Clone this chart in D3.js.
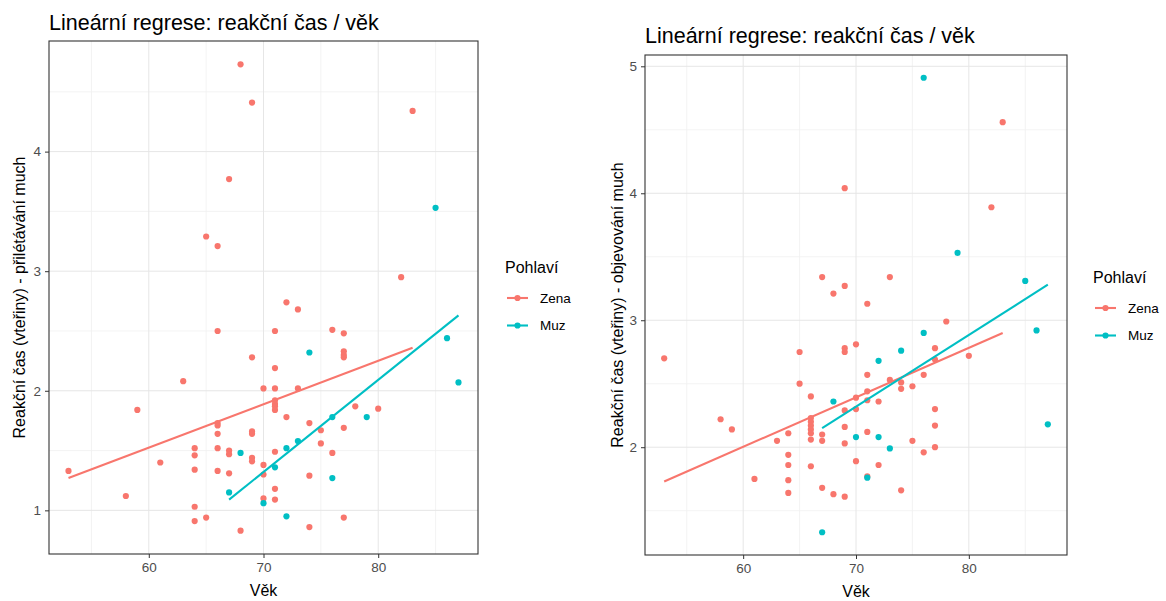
<!DOCTYPE html>
<html>
<head>
<meta charset="utf-8">
<script src="https://cdn.jsdelivr.net/npm/d3@7"></script>
<style>
  html, body { margin: 0; padding: 0; background: #ffffff; }
  svg { display: block; font-family: "Liberation Sans", Arial, sans-serif; }
</style>
</head>
<body>
<svg id="chart" width="1166" height="601"></svg>
<script>
// ---------------- DATA ----------------
const titleText = "Lineární regrese: reakční čas / věk";
const xAxisTitle = "Věk";
const yTitleLeft = "Reakční čas (vteřiny) - přilétávání much";
const yTitleRight = "Reakční čas (vteřiny) - objevování much";
const legendTitle = "Pohlaví";
const groupNames = ["Zena", "Muz"];
const groupColors = ["#F8766D", "#00BFC4"];

const xTicks = [60, 70, 80];
const yTicksLeft = [1, 2, 3, 4];
const yTicksRight = [2, 3, 4, 5];

// [age, reaction time] — left chart (přilétávání)
const leftZena = [
  [53,1.33],[58,1.12],[59,1.84],[61,1.40],[63,2.08],
  [64,1.52],[64,1.46],[64,1.34],[64,1.03],[64,0.91],
  [65,3.29],[65,0.94],
  [66,3.21],[66,2.50],[66,1.73],[66,1.71],[66,1.64],[66,1.52],[66,1.33],
  [67,3.77],[67,1.50],[67,1.47],[67,1.31],
  [68,4.73],[68,0.83],
  [69,4.41],[69,2.28],[69,1.66],[69,1.64],[69,1.44],[69,1.41],
  [70,2.02],[70,1.38],[70,1.30],[70,1.10],
  [71,2.50],[71,2.19],[71,2.02],[71,1.92],[71,1.89],[71,1.87],[71,1.84],[71,1.49],[71,1.18],[71,1.09],
  [72,2.74],[72,1.78],
  [73,2.68],[73,2.02],
  [74,1.73],[74,1.29],[74,0.86],
  [75,1.67],[75,1.56],
  [76,2.51],[76,1.48],
  [77,2.48],[77,2.33],[77,2.30],[77,2.28],[77,1.69],[77,0.94],
  [78,1.87],[80,1.85],[82,2.95],[83,4.34]
];
const leftMuz = [
  [67,1.15],[68,1.48],[70,1.06],[71,1.36],[72,1.52],[72,0.95],[73,1.58],
  [74,2.32],[76,1.78],[76,1.27],[79,1.78],[85,3.53],[86,2.44],[87,2.07]
];
// fitted regression lines (start/end)
const leftFitZena = [[53,1.27],[83,2.36]];
const leftFitMuz = [[67,1.09],[87,2.63]];

// right chart (objevování)
const rightZena = [
  [53,2.70],[58,2.22],[59,2.14],[61,1.75],[63,2.05],
  [64,2.11],[64,1.94],[64,1.86],[64,1.74],[64,1.64],
  [65,2.75],[65,2.50],
  [66,2.40],[66,2.23],[66,2.20],[66,2.17],[66,2.14],[66,2.11],[66,2.06],[66,1.85],
  [67,3.34],[67,2.10],[67,2.05],[67,1.68],
  [68,3.21],[68,1.63],
  [69,4.04],[69,3.27],[69,2.78],[69,2.75],[69,2.29],[69,2.16],[69,2.03],[69,1.61],
  [70,2.81],[70,2.39],[70,2.30],[70,1.89],
  [71,3.13],[71,2.57],[71,2.44],[71,2.37],[71,2.12],[71,1.77],
  [72,2.36],[72,1.86],
  [73,3.34],[73,2.53],
  [74,2.51],[74,2.46],[74,1.66],
  [75,2.48],[75,2.05],
  [76,2.57],[76,1.96],
  [77,2.78],[77,2.69],[77,2.30],[77,2.17],[77,2.00],
  [78,2.99],[80,2.72],[82,3.89],[83,4.56]
];
const rightMuz = [
  [67,1.33],[68,2.36],[70,2.08],[71,1.76],[72,2.68],[72,2.08],[73,1.99],
  [74,2.76],[76,2.90],[76,4.91],[79,3.53],[85,3.31],[86,2.92],[87,2.18]
];
const rightFitZena = [[53,1.73],[83,2.90]];
const rightFitMuz = [[67,2.15],[87,3.28]];

// ---------------- DRAW ----------------
const svg = d3.select("#chart");
svg.append("rect").attr("width", 1166).attr("height", 601).attr("fill", "#fff");

function expand(ext) {
  const r = ext[1] - ext[0];
  return [ext[0] - 0.05 * r, ext[1] + 0.05 * r];
}

function panel(cfg) {
  const {left, top, right, bottom, zena, muz, fitZena, fitMuz, yTicks, yTitle,
         titleY, yTitleX, legendX, legendY} = cfg;
  const all = zena.concat(muz);
  const x = d3.scaleLinear().domain(expand(d3.extent(all, d => d[0]))).range([left, right]);
  const y = d3.scaleLinear().domain(expand(d3.extent(all, d => d[1]))).range([bottom, top]);
  const g = svg.append("g");

  // grid: minor
  const xMinor = [];
  for (let v = Math.ceil(x.domain()[0] / 5) * 5; v <= x.domain()[1]; v += 5) if (v % 10 !== 0) xMinor.push(v);
  const yMinor = [];
  for (let v = Math.ceil(y.domain()[0] * 2) / 2; v <= y.domain()[1]; v += 0.5) if (v % 1 !== 0) yMinor.push(v);
  g.selectAll(".xm").data(xMinor).join("line")
    .attr("x1", d => x(d)).attr("x2", d => x(d)).attr("y1", top).attr("y2", bottom)
    .attr("stroke", "#f0f0f0").attr("stroke-width", 0.8);
  g.selectAll(".ym").data(yMinor).join("line")
    .attr("y1", d => y(d)).attr("y2", d => y(d)).attr("x1", left).attr("x2", right)
    .attr("stroke", "#f0f0f0").attr("stroke-width", 0.8);
  // grid: major
  g.selectAll(".xM").data(xTicks).join("line")
    .attr("x1", d => x(d)).attr("x2", d => x(d)).attr("y1", top).attr("y2", bottom)
    .attr("stroke", "#e6e6e6").attr("stroke-width", 1);
  g.selectAll(".yM").data(yTicks).join("line")
    .attr("y1", d => y(d)).attr("y2", d => y(d)).attr("x1", left).attr("x2", right)
    .attr("stroke", "#e6e6e6").attr("stroke-width", 1);

  // points
  const pts = [[zena, groupColors[0]], [muz, groupColors[1]]];
  pts.forEach(([data, col]) => {
    g.append("g").selectAll("circle").data(data).join("circle")
      .attr("cx", d => x(d[0])).attr("cy", d => y(d[1])).attr("r", 3.1)
      .attr("fill", col);
  });
  // regression lines
  const line = d3.line().x(d => x(d[0])).y(d => y(d[1]));
  [[fitZena, groupColors[0]], [fitMuz, groupColors[1]]].forEach(([data, col]) => {
    g.append("path").datum(data).attr("d", line)
      .attr("fill", "none").attr("stroke", col).attr("stroke-width", 2.1);
  });

  // border
  g.append("rect").attr("x", left).attr("y", top).attr("width", right - left).attr("height", bottom - top)
    .attr("fill", "none").attr("stroke", "#333").attr("stroke-width", 1.1);

  // axes
  const fmt = d3.format("d");
  const xAxis = d3.axisBottom(x).tickValues(xTicks).tickFormat(fmt).tickSize(4).tickPadding(4);
  const gx = g.append("g").attr("transform", `translate(0,${bottom})`).call(xAxis);
  gx.select(".domain").remove();
  gx.selectAll("line").attr("stroke", "#333");
  gx.selectAll("text").attr("fill", "#4d4d4d").attr("font-size", 13.5)
    .attr("font-family", "Liberation Sans, Arial, sans-serif");
  const yAxis = d3.axisLeft(y).tickValues(yTicks).tickFormat(fmt).tickSize(4).tickPadding(4);
  const gy = g.append("g").attr("transform", `translate(${left},0)`).call(yAxis);
  gy.select(".domain").remove();
  gy.selectAll("line").attr("stroke", "#333");
  gy.selectAll("text").attr("fill", "#4d4d4d").attr("font-size", 13.5)
    .attr("font-family", "Liberation Sans, Arial, sans-serif");

  // titles
  g.append("text").attr("x", left).attr("y", titleY).text(titleText)
    .attr("font-size", 21.5).attr("fill", "#000");
  g.append("text").attr("x", (left + right) / 2).attr("y", bottom + 42).attr("text-anchor", "middle")
    .text(xAxisTitle).attr("font-size", 16).attr("fill", "#000");
  g.append("text").attr("transform", `translate(${yTitleX},${(top + bottom) / 2}) rotate(-90)`)
    .attr("text-anchor", "middle").attr("dy", "0.35em").text(yTitle)
    .attr("font-size", 16).attr("fill", "#000");

  // legend
  const lg = g.append("g").attr("transform", `translate(${legendX},${legendY})`);
  lg.append("text").attr("x", 0).attr("y", 0).text(legendTitle).attr("font-size", 16).attr("fill", "#000");
  groupNames.forEach((name, i) => {
    const yy = 25 + i * 27.5;
    lg.append("line").attr("x1", 2).attr("x2", 23).attr("y1", yy).attr("y2", yy)
      .attr("stroke", groupColors[i]).attr("stroke-width", 2.1);
    lg.append("circle").attr("cx", 12.5).attr("cy", yy).attr("r", 3.1).attr("fill", groupColors[i]);
    lg.append("text").attr("x", 35).attr("y", yy).attr("dy", "0.35em").text(name)
      .attr("font-size", 13.5).attr("fill", "#000");
  });
}

panel({left: 49, top: 41, right: 478, bottom: 554, zena: leftZena, muz: leftMuz,
  fitZena: leftFitZena, fitMuz: leftFitMuz, yTicks: yTicksLeft, yTitle: yTitleLeft,
  titleY: 30, yTitleX: 19, legendX: 505, legendY: 273});
panel({left: 645, top: 55, right: 1067, bottom: 555, zena: rightZena, muz: rightMuz,
  fitZena: rightFitZena, fitMuz: rightFitMuz, yTicks: yTicksRight, yTitle: yTitleRight,
  titleY: 43, yTitleX: 617, legendX: 1093, legendY: 283});
</script>
</body>
</html>
